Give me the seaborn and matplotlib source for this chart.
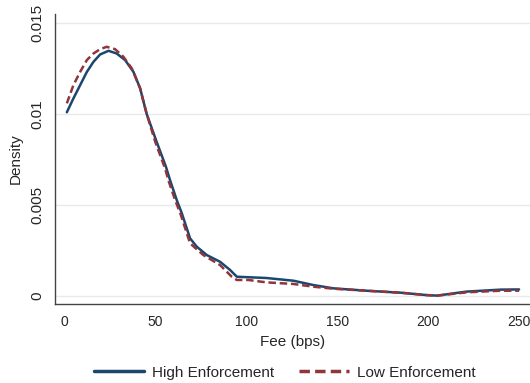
import pandas as pd
import matplotlib.pyplot as plt
import seaborn as sns

# Kernel density estimates
fee_high = [1.5, 5.1, 8.8, 12.5, 16.1, 19.8, 24.4, 28.9, 33.5, 38.1, 41.8, 43.4, 45.4,
            50.5, 56, 58.2, 61.9, 64.7, 69.2, 72.9, 78.4, 85.7, 91.2, 94.9, 101.3,
            111, 126, 137, 148, 166, 185, 199, 205, 221, 240, 250]
dens_high = [0.0101, 0.01086, 0.01159, 0.01232, 0.01287, 0.01328, 0.01348, 0.01333,
             0.01297, 0.01232, 0.01141, 0.01077, 0.0100, 0.00857, 0.00709, 0.00637,
             0.00527, 0.00454, 0.00317, 0.00271, 0.00225, 0.00188, 0.00143, 0.00106,
             0.00103, 0.00099, 0.00084, 0.0006, 0.00042, 0.00029, 0.00018, 0.00005,
             0.00002, 0.00024, 0.00035, 0.00036]

fee_low = [1.5, 5.1, 8.8, 12.5, 16.1, 19.8, 23.4, 28, 32.6, 37.2, 41.8, 43.4, 45.4,
           50, 55.5, 57.5, 61, 64, 69.2, 72.5, 76.5, 85.7, 92.1, 94.9, 101.3,
           111, 126, 137, 148, 166, 185, 199, 205, 221, 240, 250]
dens_low = [0.01059, 0.01159, 0.01232, 0.01297, 0.01333, 0.01357, 0.0137, 0.01357,
            0.01315, 0.01251, 0.01141, 0.01077, 0.0100, 0.0085, 0.00700, 0.00630,
            0.00527, 0.00450, 0.0029, 0.0026, 0.00225, 0.0017, 0.00106, 0.00088,
            0.00088, 0.00075, 0.00066, 0.00051, 0.0004, 0.00029, 0.00018, 0.00005,
            0.00002, 0.0002, 0.00029, 0.00029]

df = pd.concat([
    pd.DataFrame({"fee": fee_high, "density": dens_high, "group": "High Enforcement"}),
    pd.DataFrame({"fee": fee_low, "density": dens_low, "group": "Low Enforcement"}),
])

sns.set_style("white")
plt.rcParams["font.family"] = ["Liberation Sans", "DejaVu Sans"]

fig = plt.figure(figsize=(5.3, 3.83), dpi=100)
ax = fig.add_axes([0.1038, 0.2063, 0.8962, 0.757])

sns.lineplot(data=df, x="fee", y="density", hue="group", style="group",
             palette={"High Enforcement": "#1a476f", "Low Enforcement": "#90353b"},
             dashes={"High Enforcement": "", "Low Enforcement": (3, 1.5)},
             linewidth=1.8, ax=ax, legend=False)

ax.set_xlim(-5, 256)
ax.set_ylim(-0.00044, 0.0155)
ax.set_xticks([0, 50, 100, 150, 200, 250])
ax.set_yticks([0, 0.005, 0.01, 0.015])
ax.set_yticklabels(["0", "0.005", "0.01", "0.015"], rotation=90, va="center")
ax.yaxis.grid(True, color="#eaeaea", linewidth=1)
ax.xaxis.grid(False)
ax.tick_params(axis="both", direction="out", length=5, width=1, color="#444444",
               pad=3)
ax.tick_params(axis="x", labelsize=10)
ax.tick_params(axis="y", labelsize=11)
for side in ["top", "right"]:
    ax.spines[side].set_visible(False)
for side in ["left", "bottom"]:
    ax.spines[side].set_color("#444444")
    ax.spines[side].set_linewidth(1)

ax.set_xlabel("Fee (bps)", fontsize=11, labelpad=4)
ax.set_ylabel("Density", fontsize=11, labelpad=5)

handles = [plt.Line2D([], [], color="#1a476f", linewidth=2.5),
           plt.Line2D([], [], color="#90353b", linewidth=2.5, dashes=(3, 1.5))]
fig.legend(handles, ["High Enforcement", "Low Enforcement"], loc="center",
           bbox_to_anchor=(0.537, 0.027), ncol=2, frameon=False, fontsize=11,
           handlelength=3.3, handletextpad=0.5, columnspacing=1.6)

fig.savefig("out.png", dpi=100)
